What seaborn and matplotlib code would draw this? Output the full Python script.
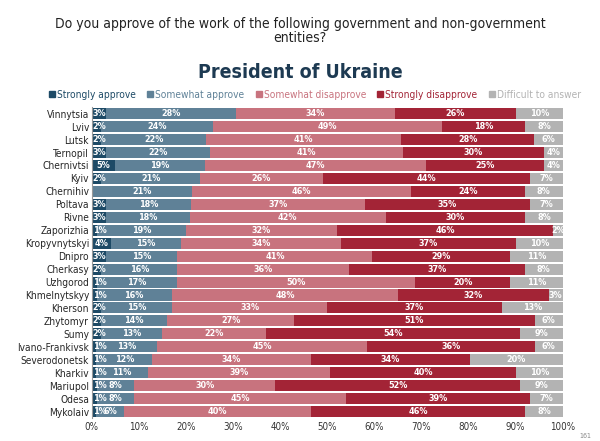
import numpy as np
import pandas as pd
import matplotlib
matplotlib.use("Agg")
import matplotlib.pyplot as plt
import seaborn as sns

cities = ["Vinnytsia", "Lviv", "Lutsk", "Ternopil", "Chernivtsi", "Kyiv", "Chernihiv",
          "Poltava", "Rivne", "Zaporizhia", "Kropyvnytskyi", "Dnipro", "Cherkasy",
          "Uzhgorod", "Khmelnytskyy", "Kherson", "Zhytomyr", "Sumy", "Ivano-Frankivsk",
          "Severodonetsk", "Kharkiv", "Mariupol", "Odesa", "Mykolaiv"]
strongly_approve = [3, 2, 2, 3, 5, 2, 0, 3, 3, 1, 4, 3, 2, 1, 1, 2, 2, 2, 1, 1, 1, 1, 1, 1]
somewhat_approve = [28, 24, 22, 22, 19, 21, 21, 18, 18, 19, 15, 15, 16, 17, 16, 15, 14, 13, 13, 12, 11, 8, 8, 6]
somewhat_disapprove = [34, 49, 41, 41, 47, 26, 46, 37, 42, 32, 34, 41, 36, 50, 48, 33, 27, 22, 45, 34, 39, 30, 45, 40]
strongly_disapprove = [26, 18, 28, 30, 25, 44, 24, 35, 30, 46, 37, 29, 37, 20, 32, 37, 51, 54, 36, 34, 40, 52, 39, 46]
difficult = [10, 8, 6, 4, 4, 7, 8, 7, 8, 2, 10, 11, 8, 11, 3, 13, 6, 9, 6, 20, 10, 9, 7, 8]

series = ["Strongly approve", "Somewhat approve", "Somewhat disapprove",
          "Strongly disapprove", "Difficult to answer"]
colors = ["#1d4a66", "#5f8197", "#c8737e", "#a32436", "#b3b3b3"]

df = pd.DataFrame(dict(zip(series, [strongly_approve, somewhat_approve, somewhat_disapprove,
                                     strongly_disapprove, difficult])), index=cities)
pct = df.div(df.sum(axis=1), axis=0) * 100
cum = pct.cumsum(axis=1)

sns.set_style("white")
plt.rcParams['font.family'] = ['DejaVu Sans']
plt.rcParams['font.stretch'] = 'condensed'
fig = plt.figure(figsize=(6, 4.41), dpi=100)
ax = fig.add_axes([0.153, 0.052, 0.785, 0.705])

# draw cumulative layers from the back
for s, c in reversed(list(zip(series, colors))):
    d = pd.DataFrame({"city": cities, "v": cum[s].values})
    sns.barplot(data=d, x="v", y="city", color=c, orient="h", width=0.85,
                saturation=1, ax=ax, edgecolor="none", legend=False)

for i, city in enumerate(cities):
    for s in series:
        v = df.loc[city, s]
        if v <= 0:
            continue
        p = pct.loc[city, s]
        if s == series[0] and p < 4:
            # tiny first segment: start the label at the bar's left edge
            ax.text(0.2, i, f"{v}%", ha="left", va="center", color="white",
                    fontsize=6.5, fontweight="bold")
            continue
        mid = cum.loc[city, s] - p / 2
        ax.text(mid, i, f"{v}%", ha="center", va="center", color="white",
                fontsize=6.5, fontweight="bold")

ax.set_xlim(0, 100)
ax.set_xticks(np.arange(0, 101, 10))
ax.set_xticklabels([f"{t}%" for t in range(0, 101, 10)], fontsize=7, color="#333333")
ax.tick_params(axis="y", labelsize=7.3, length=0, pad=2)
ax.tick_params(axis="x", length=0, pad=3)
ax.set_xlabel("")
ax.set_ylabel("")
for sp in ["top", "right", "bottom"]:
    ax.spines[sp].set_visible(False)
ax.spines["left"].set_color("#999999")
ax.set_ylim(len(cities) - 0.5, -0.5)

handles = [plt.Rectangle((0, 0), 1, 1, color=c) for c in colors]
leg = fig.legend(handles, series, loc="center", bbox_to_anchor=(0.525, 0.785), ncol=5,
                 frameon=False, fontsize=7.3, handlelength=0.6, handleheight=0.6,
                 handletextpad=0.2, columnspacing=1.1)
for t, c in zip(leg.get_texts(), colors):
    t.set_color(c)

fig.text(0.5, 0.93, "Do you approve of the work of the following government and non-government\nentities?",
         ha="center", va="center", fontsize=10, color="#222222", linespacing=1.0)
fig.text(0.5, 0.835, "President of Ukraine", ha="center", va="center", fontsize=14,
         fontweight="bold", color="#1d3a52")
fig.text(0.985, 0.005, "161", ha="right", va="bottom", fontsize=5, color="#888888")

fig.savefig("out.png", dpi=100)
